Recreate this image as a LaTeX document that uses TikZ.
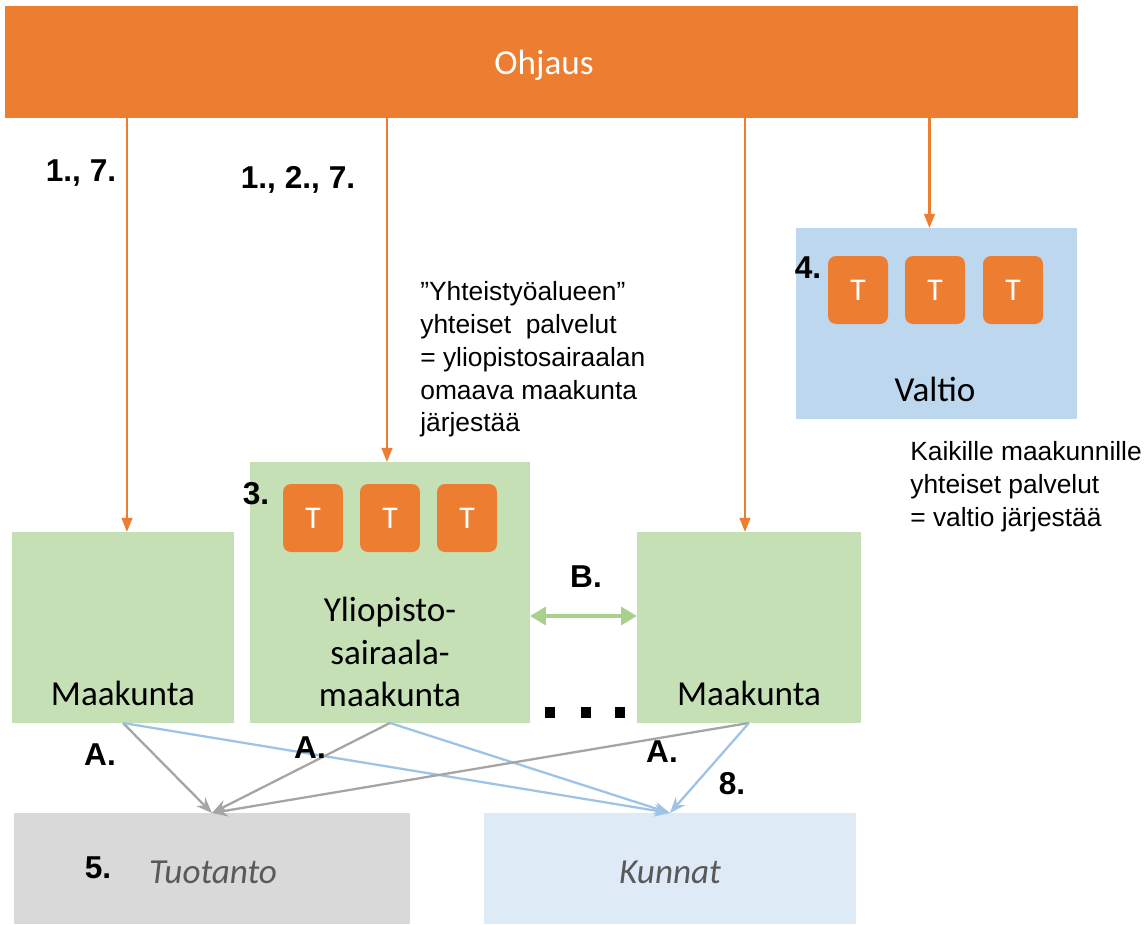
\documentclass[tikz,border=0pt]{standalone}
\usepackage{fontspec}
\setmainfont{Carlito}
\newfontfamily\arialfont{Liberation Sans}
\usetikzlibrary{arrows.meta,positioning,calc}
\definecolor{ohjorange}{HTML}{ED7D31}
\definecolor{mkgreen}{HTML}{C5E0B4}
\definecolor{bgreen}{HTML}{A9D18E}
\definecolor{valblue}{HTML}{BDD7EE}
\definecolor{kunblue}{HTML}{DEEBF7}
\definecolor{tuogray}{HTML}{D9D9D9}
\definecolor{linegray}{HTML}{A5A5A5}
\definecolor{lineblue}{HTML}{9DC3E6}
\definecolor{txtgray}{HTML}{595959}

\begin{document}
\begin{tikzpicture}[x=0.02cm,y=-0.02cm]

\tikzstyle{box} = [anchor=north west, inner sep=0pt, outer sep=0pt, minimum height=3.82cm]
\tikzstyle{tbox} = [fill=ohjorange, rounded corners=0.16cm, minimum width=1.2cm, minimum height=1.36cm, inner sep=0pt, text=white, font=\fontsize{18}{20}\selectfont]
\tikzstyle{big} = [font=\fontsize{20}{24.4}\selectfont, align=center]
\tikzstyle{num} = [font=\arialfont\bfseries\fontsize{18}{20}\selectfont]
\tikzstyle{note} = [anchor=north west, align=left, inner sep=0pt, font=\arialfont\fontsize{15}{18.7}\selectfont]
\tikzstyle{ctrl} = [draw=ohjorange, line width=1.4pt, -{Triangle[length=8pt,width=6pt]}]
\tikzstyle{gline} = [draw=linegray, line width=1.3pt, -{Stealth[length=9pt,width=7pt]}]
\tikzstyle{bline} = [draw=lineblue, line width=1.3pt, -{Stealth[length=9pt,width=7pt]}]
\tikzset{dot/.style={fill=black, minimum width=0.2cm, minimum height=0.22cm, inner sep=0pt}}

\useasboundingbox (0,0) rectangle (1146,924);

\node[box, fill=ohjorange, minimum width=21.46cm, minimum height=2.24cm] (ohjaus) at (5,6) {};
\node[big, text=white] (ohjauslbl) at (544,65) {Ohjaus};

\node[box, fill=valblue, minimum width=5.62cm] (valtio) at (796,228) {};
\node[box, fill=mkgreen, minimum width=5.6cm, minimum height=5.22cm] (yo) at (250,462) {};
\node[box, fill=mkgreen, minimum width=4.44cm] (mk1) at (12,532) {};
\node[box, fill=mkgreen, minimum width=4.48cm] (mk2) at (637,532) {};
\node[box, fill=tuogray, minimum width=7.92cm, minimum height=2.22cm] (tuotanto) at (14,813) {};
\node[box, fill=kunblue, minimum width=7.44cm, minimum height=2.22cm] (kunnat) at (484,813) {};

\foreach \x [count=\i] in {858,935,1013} \node[tbox] (vt\i) at (\x,290) {T};
\foreach \x [count=\i] in {313,390,467} \node[tbox] (yt\i) at (\x,518) {T};

\node[big] (valtiolbl) at (935,389) {Valtio};
\node[big] (yolbl) at (390,652) {Yliopisto-\\sairaala-\\maakunta};
\node[big] (mk1lbl) at (123,693) {Maakunta};
\node[big] (mk2lbl) at (749,693) {Maakunta};
\node[big, text=txtgray, font=\itshape\fontsize{20}{24}\selectfont] (tuolbl) at (213,872) {Tuotanto};
\node[big, text=txtgray, font=\itshape\fontsize{20}{24}\selectfont] (kunlbl) at (670,872) {Kunnat};

\draw[ctrl] ($(ohjaus.south -| mk1.north)+(4,0)$) -- ($(mk1.north)+(4,0)$);
\draw[ctrl] ($(ohjaus.south -| yo.north)+(-3,0)$) -- ($(yo.north)+(-3,0)$);
\draw[ctrl] ($(ohjaus.south -| mk2.north)+(-4,0)$) -- ($(mk2.north)+(-4,0)$);
\draw[ctrl] ($(ohjaus.south -| valtio.north)+(-7,0)$) -- ($(valtio.north)+(-7,0)$);

\coordinate (bmid) at (583,616);
\draw[draw=bgreen, line width=2.4pt, {Triangle[length=9pt,width=10pt]}-{Triangle[length=9pt,width=10pt]}] (yo.east |- bmid) -- (mk2.west |- bmid);

\foreach \src in {mk1,yo,mk2} {
  \draw[gline] (\src.south) -- (tuotanto.north);
  \draw[bline] (\src.south) -- (kunnat.north);
}

\foreach \x [count=\i] in {550,586,620} \node[dot] (dot\i) at (\x,712) {};

\node[num] (n17) at (81,173) {1., 7.};
\node[num] (n127) at (298,180) {1., 2., 7.};
\node[num] (n4) at (808,268) {4.};
\node[num] (n3) at (256,494) {3.};
\node[num] (nb) at (586,577) {B.};
\node[num] (na1) at (100,755) {A.};
\node[num] (na2) at (310,748) {A.};
\node[num] (na3) at (662,752) {A.};
\node[num] (n8) at (732,784) {8.};
\node[num] (n5) at (98,868) {5.};

\node[note] (yhteis) at (420,281) {”Yhteistyöalueen”\\yhteiset\ \ palvelut\\= yliopistosairaalan\\omaava maakunta\\järjestää};
\node[note] (kaikille) at (910,441) {Kaikille maakunnille\\yhteiset palvelut\\= valtio järjestää};

\end{tikzpicture}
\end{document}
